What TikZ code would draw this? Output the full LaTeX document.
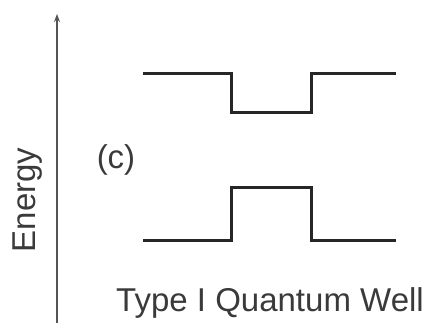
\documentclass[tikz,border=0pt]{standalone}
\usepackage{fontspec}
\setmainfont{Liberation Sans}
\usetikzlibrary{arrows.meta}
\definecolor{band}{HTML}{262626}
\definecolor{txt}{HTML}{3A3A3A}
\definecolor{axis}{HTML}{555555}
\tikzset{
  bandline/.style={draw=band, line width=3pt, line join=miter},
  axisline/.style={draw=axis, line width=1.4pt, -{Stealth[length=8pt,width=6pt]}},
  lbl/.style={text=txt, inner sep=0pt, font=\fontsize{33}{38}\selectfont},
}
\begin{document}
\begin{tikzpicture}[x=1pt,y=1pt]
\useasboundingbox (0,0) rectangle (432,328);
% axis
\coordinate (a0) at (57,5);
\coordinate (a1) at (57,314);
\draw[axisline] (a0) -- (a1);
\node[lbl, rotate=90] (energy) at (28,128) {Energy};
% conduction band
\coordinate (c1) at (143,254);
\coordinate (c2) at (231,254);
\coordinate (c3) at (231,215);
\coordinate (c4) at (311,215);
\coordinate (c5) at (311,254);
\coordinate (c6) at (396,254);
\draw[bandline] (c1) -- (c2) -- (c3) -- (c4) -- (c5) -- (c6);
% valence band
\coordinate (v1) at (143,87);
\coordinate (v2) at (231,87);
\coordinate (v3) at (231,140);
\coordinate (v4) at (311,140);
\coordinate (v5) at (311,87);
\coordinate (v6) at (396,87);
\draw[bandline] (v1) -- (v2) -- (v3) -- (v4) -- (v5) -- (v6);
\node[lbl] (c) at (116,168) {(c)};
\node[lbl] (title) at (270,25) {Type I Quantum Well};
\end{tikzpicture}
\end{document}
